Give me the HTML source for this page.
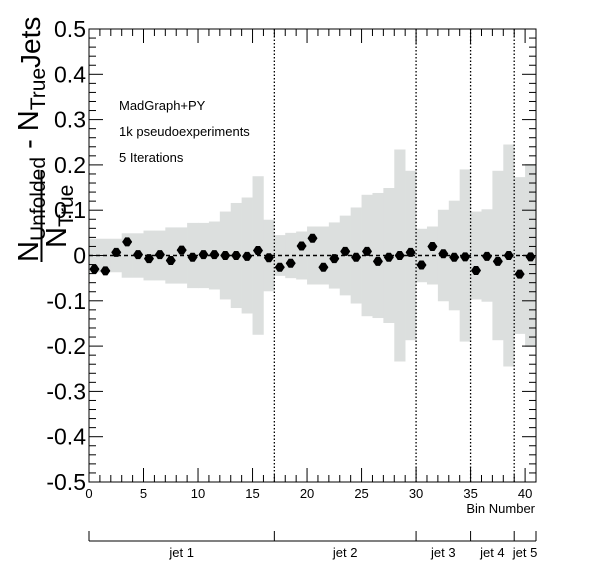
<!DOCTYPE html>
<html><head><meta charset="utf-8"><style>
body{margin:0;background:#fff;}
svg text{font-family:"Liberation Sans",sans-serif;fill:#000;}
</style></head><body>
<svg id="c" width="596" height="572" xmlns="http://www.w3.org/2000/svg">
<g id="band"></g>
<g id="axes"></g>
<g id="pts"></g>
<text x="119" y="110" font-size="13">MadGraph+PY</text>
<text x="119" y="136" font-size="13">1k pseudoexperiments</text>
<text x="119" y="162" font-size="13">5 Iterations</text>
<text x="535" y="513" font-size="13" text-anchor="end">Bin Number</text>
<g>
<text transform="translate(38,262) rotate(-90)" font-size="29">N<tspan font-size="21" dy="7">Unfolded</tspan><tspan dy="-7"> - N</tspan><tspan font-size="21" dy="7">True</tspan></text>
<text transform="translate(40,68) rotate(-90)" font-size="28">Jets</text>
<line x1="41.5" y1="170" x2="41.5" y2="262" stroke="#000" stroke-width="2"/>
<text transform="translate(66,248) rotate(-90)" font-size="29">N<tspan font-size="21" dy="7">True</tspan></text>
</g>
<g id="jetaxis"></g>
</svg>
<script>
const categories = ["jet 1","jet 2","jet 3","jet 4","jet 5"];
const jetEdges = [0,17,30,35,39,41];
const values = [-0.030,-0.034,0.007,0.030,0.002,-0.007,0.002,-0.011,0.012,-0.004,0.002,0.002,0.000,0.000,-0.002,0.011,-0.005,-0.026,-0.017,0.021,0.038,-0.026,-0.007,0.009,-0.004,0.009,-0.013,-0.004,0.000,0.007,-0.021,0.020,0.004,-0.004,-0.003,-0.033,-0.002,-0.013,0.000,-0.041,-0.003];
const bandHalf = [0.037,0.037,0.037,0.049,0.049,0.055,0.055,0.062,0.062,0.072,0.072,0.075,0.097,0.116,0.128,0.175,0.079,0.045,0.050,0.053,0.064,0.064,0.073,0.088,0.106,0.134,0.138,0.149,0.234,0.187,0.059,0.064,0.101,0.121,0.19,0.097,0.102,0.187,0.245,0.173,0.202];
const yTicks = [-0.5,-0.4,-0.3,-0.2,-0.1,0,0.1,0.2,0.3,0.4,0.5];
const yTickLabels = ["-0.5","-0.4","-0.3","-0.2","-0.1","0","0.1","0.2","0.3","0.4","0.5"];
const xTicks = [0,5,10,15,20,25,30,35,40];

const L=89,R=536,T=29,B=482,NB=41;
const X=v=>L+(R-L)*v/NB;
const Y=v=>B-(B-T)*(v+0.5);
const NS="http://www.w3.org/2000/svg";
function mk(tag,attrs,parent){const e=document.createElementNS(NS,tag);for(const k in attrs)e.setAttribute(k,attrs[k]);parent.appendChild(e);return e;}
const band=document.getElementById('band'),axes=document.getElementById('axes'),pts=document.getElementById('pts'),ja=document.getElementById('jetaxis');
bandHalf.forEach((h,i)=>{
  const r=mk('rect',{x:X(i),y:Y(h),width:X(i+1)-X(i)+0.3,height:Y(-h)-Y(h),fill:'#dcdfde'},band);
  
  
});
const fr=mk('rect',{x:L,y:T,width:R-L,height:B-T,fill:'none',stroke:'#000','stroke-width':1},axes);


for(let k=0;k<=50;k++){const v=-0.5+k*0.02;const len=(k%5===0)?14:7;const y=Y(v);
  mk('line',{x1:L,y1:y,x2:L+len,y2:y,stroke:'#000'},axes);
  mk('line',{x1:R,y1:y,x2:R-len,y2:y,stroke:'#000'},axes);}
yTicks.forEach((v,i)=>{const t=mk('text',{x:L-3,y:Y(v)+8,'font-size':23,'text-anchor':'end'},axes);t.textContent=yTickLabels[i];
  
  });
for(let b=0;b<=NB;b++){const len=(b%5===0)?14:7;const x=X(b);
  mk('line',{x1:x,y1:B,x2:x,y2:B-len,stroke:'#000'},axes);
  mk('line',{x1:x,y1:T,x2:x,y2:T+len,stroke:'#000'},axes);}
xTicks.forEach(v=>{const t=mk('text',{x:X(v),y:498,'font-size':13,'text-anchor':'middle'},axes);t.textContent=v;
  
  });
jetEdges.slice(1,-1).forEach(e=>{const l=mk('line',{x1:X(e),y1:T,x2:X(e),y2:B,stroke:'#000','stroke-dasharray':'1.5,2','stroke-width':1.3},axes);
  
  });
const z=mk('line',{x1:L,y1:Y(0),x2:R,y2:Y(0),stroke:'#000','stroke-dasharray':'4,3','stroke-width':1.5},axes);


values.forEach((v,i)=>{const cx=X(i+0.5),cy=Y(v);
  const g=mk('g',{},pts);
  
  
  mk('line',{x1:X(i)+1,y1:cy,x2:X(i+1)-1,y2:cy,stroke:'#000','stroke-width':2},g);
  mk('path',{d:`M${cx-5} ${cy} L${cx-2} ${cy-4.5} L${cx+2} ${cy-4.5} L${cx+5} ${cy} L${cx+2} ${cy+4.5} L${cx-2} ${cy+4.5} Z`,fill:'#000'},g);
});
mk('line',{x1:L,y1:541,x2:R,y2:541,stroke:'#000'},ja);
jetEdges.forEach(e=>mk('line',{x1:X(e),y1:531,x2:X(e),y2:541,stroke:'#000'},ja));
categories.forEach((c,i)=>{const t=mk('text',{x:(X(jetEdges[i])+X(jetEdges[i+1]))/2,y:557,'font-size':13,'text-anchor':'middle'},ja);t.textContent=c;
  
  });
</script>
</body></html>
